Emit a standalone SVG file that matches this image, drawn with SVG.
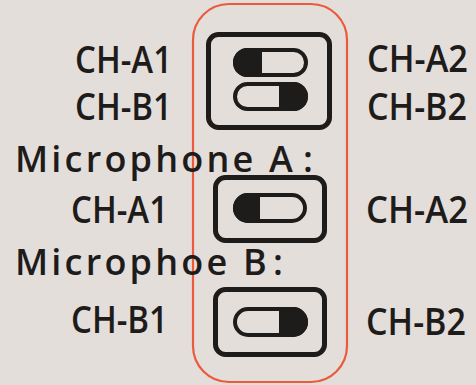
<svg xmlns="http://www.w3.org/2000/svg" width="476" height="385" viewBox="0 0 476 385">
<style>
.t{font-family:"Open Sans","Liberation Sans",sans-serif;font-size:37px;font-weight:600;fill:#1e1c1b}
.m{font-family:"Open Sans","Liberation Sans",sans-serif;font-size:36px;font-weight:600;fill:#1e1c1b;letter-spacing:3.2px}
.box{fill:none;stroke:#1e1c1b;stroke-width:5}
.pill{fill:none;stroke:#1e1c1b;stroke-width:4}
.knob{fill:#1e1c1b}
</style>
<rect width="476" height="385" fill="#e4dedb"/>
<rect x="193" y="4" width="154" height="378" rx="36" fill="none" stroke="#ea5a3d" stroke-width="2.2"/>
<g id="labels">
<text class="t" x="75" y="73" textLength="97" lengthAdjust="spacingAndGlyphs">CH-A1</text>
<text class="t" x="75" y="120" textLength="97" lengthAdjust="spacingAndGlyphs">CH-B1</text>
<text class="t" x="367" y="72" textLength="101" lengthAdjust="spacingAndGlyphs">CH-A2</text>
<text class="t" x="367" y="120" textLength="100" lengthAdjust="spacingAndGlyphs">CH-B2</text>
<text class="m" x="15" y="172">Microphone A<tspan dx="7">:</tspan></text>
<text class="t" x="71" y="223" textLength="97" lengthAdjust="spacingAndGlyphs">CH-A1</text>
<text class="t" x="366" y="223" textLength="102" lengthAdjust="spacingAndGlyphs">CH-A2</text>
<text class="m" x="15" y="275">Microphoe B<tspan dx="3">:</tspan></text>
<text class="t" x="71" y="333" textLength="97" lengthAdjust="spacingAndGlyphs">CH-B1</text>
<text class="t" x="366" y="335" textLength="100" lengthAdjust="spacingAndGlyphs">CH-B2</text>
</g>
<g id="switch-top">
<rect class="box" x="208.5" y="34.5" width="121" height="93" rx="10"/>
<rect class="pill" x="235" y="50" width="71" height="25" rx="12.5"/>
<path class="knob" d="M262 48 H247.5 A14.5 14.5 0 0 0 247.5 77 H262 Z"/>
<rect class="pill" x="235" y="84" width="71" height="25" rx="12.5"/>
<path class="knob" d="M279 82 H293.5 A14.5 14.5 0 0 1 293.5 111 H279 Z"/>
</g>
<g id="switch-a">
<rect class="box" x="215.5" y="177.5" width="109" height="63" rx="10"/>
<rect class="pill" x="235" y="195" width="70" height="26" rx="13"/>
<path class="knob" d="M260 193 H248 A15 15 0 0 0 248 223 H260 Z"/>
</g>
<g id="switch-b">
<rect class="box" x="215.5" y="289.5" width="109" height="65" rx="10"/>
<rect class="pill" x="235" y="309" width="71" height="26" rx="13"/>
<path class="knob" d="M279 307 H293 A15 15 0 0 1 293 337 H279 Z"/>
</g>
</svg>
